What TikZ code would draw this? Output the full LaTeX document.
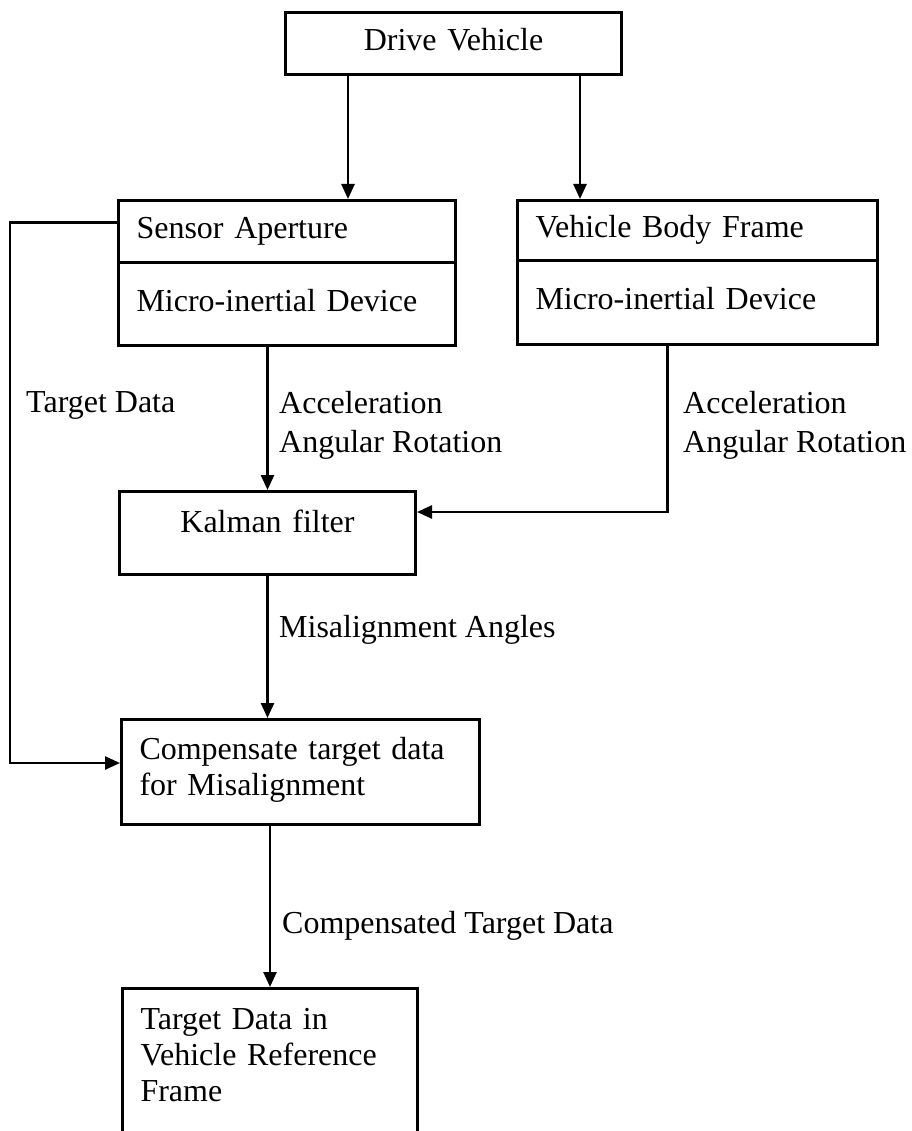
\documentclass[tikz,border=0pt]{standalone}
\usepackage{fontspec}
\setmainfont{Liberation Serif}
\usetikzlibrary{arrows.meta}
\tikzset{
box/.style = {draw, line width=3pt, anchor=north west, inner xsep=18pt, inner ysep=0pt, text height=22pt, text depth=8pt, align=left},
conn/.style = {line width=2.5pt, -{Triangle[length=15pt, width=13pt]}},
lbl/.style = {anchor=north west, inner sep=0pt, align=left}
}
\begin{document}
\begin{tikzpicture}[x=1pt, y=-1pt, font=\fontsize{32}{36}\selectfont]
\useasboundingbox (0,0) rectangle (911,1131);
\node[box, text width=300pt, minimum height=62pt, align=center] (b1) at (284,11) {Drive Vehicle};
\node[box, text width=301pt, minimum height=62pt] (b2) at (117,199) {Sensor Aperture};
\node[box, text width=301pt, minimum height=83pt] (b3) at (117,261) {Micro-inertial Device};
\node[box, text width=324pt, minimum height=60pt] (b4) at (516,199) {Vehicle Body Frame};
\node[box, text width=324pt, minimum height=84pt] (b5) at (516,259) {Micro-inertial Device};
\node[box, text width=260pt, minimum height=83pt, text depth=24pt, align=center] (b6) at (118,490) {Kalman filter};
\node[box, text width=322pt, minimum height=105pt, text depth=48pt] (b7) at (120,718) {Compensate target data\\for Misalignment};
\node[box, text width=259pt, minimum height=163pt, text depth=104pt] (b8) at (121,987) {Target Data in\\Vehicle Reference\\Frame};
\node[lbl] (l1) at (26,391) {Target Data};
\node[lbl] (l2) at (279,391) {Acceleration\\[3pt]Angular Rotation};
\node[lbl] (l3) at (683,391) {Acceleration\\[3pt]Angular Rotation};
\node[lbl] (l4) at (279,615) {Misalignment Angles};
\node[lbl] (l5) at (282,911) {Compensated Target Data};
\draw[conn] ([xshift=64pt]b1.south west) -- ([xshift=64pt]b1.south west |- b2.north);
\draw[conn] ([xshift=296pt]b1.south west) -- ([xshift=296pt]b1.south west |- b4.north);
\draw[conn] ([yshift=9pt]b2.west) -- ++(-107pt,0) |- ([yshift=9pt]b7.west);
\draw[conn] (b6.north |- b3.south) -- (b6.north);
\draw[conn] ([xshift=-30pt]b5.south) |- ([yshift=21pt]b6.east);
\draw[conn] (b6.south) -- (b6.south |- b7.north);
\draw[conn] (b8.north |- b7.south) -- (b8.north);
\end{tikzpicture}
\end{document}
